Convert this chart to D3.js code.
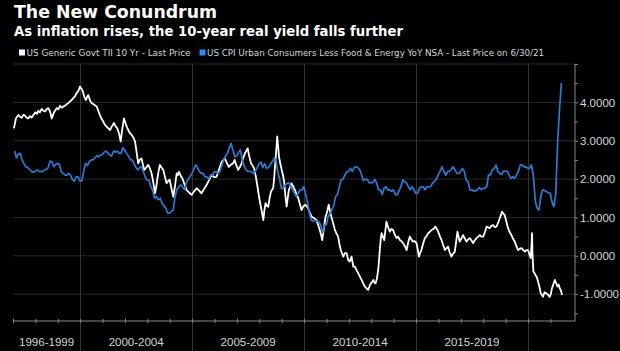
<!DOCTYPE html>
<html>
<head>
<meta charset="utf-8">
<script src="https://cdn.jsdelivr.net/npm/d3@7"></script>
<style>
	body { margin: 0; background: #000; }
	svg { display: block; }
</style>
</head>
<body>
<div id="chart"></div>
<script>
// ---- chart text ----
const titleText = 'The New Conundrum';
const subtitleText = 'As inflation rises, the 10-year real yield falls further';
const legendLabels = [
	'US Generic Govt TII 10 Yr - Last Price',
	'US CPI Urban Consumers Less Food & Energy YoY NSA - Last Price on 6/30/21'
];

// x axis: period bands (labels sit centred in each band)
const periodBreaks = [1997, 2000, 2005, 2010, 2015, 2020, 2022.1];
const periodLabels = ['1996-1999', '2000-2004', '2005-2009', '2010-2014', '2015-2019', ''];
const yGridValues = [-1, 0, 1, 2, 3, 4, 5];

// 10y TIPS real yield, [decimal year, %]
const tiiYield = [
	[1997.04, 3.32], [1997.13, 3.58], [1997.24, 3.67], [1997.32, 3.62], [1997.39, 3.6], [1997.47, 3.68],
	[1997.54, 3.65], [1997.61, 3.6], [1997.68, 3.58], [1997.76, 3.64], [1997.83, 3.6], [1997.92, 3.68],
	[1998.0, 3.74], [1998.07, 3.7], [1998.13, 3.78], [1998.2, 3.74], [1998.28, 3.83], [1998.36, 3.78],
	[1998.43, 3.76], [1998.5, 3.82], [1998.58, 3.85], [1998.66, 3.75], [1998.73, 3.58], [1998.78, 3.66],
	[1998.83, 3.74], [1998.9, 3.8], [1998.95, 3.85], [1999.03, 3.82], [1999.1, 3.91], [1999.18, 3.86],
	[1999.25, 3.89], [1999.33, 3.92], [1999.4, 3.95], [1999.47, 3.98], [1999.54, 4.02], [1999.62, 4.06],
	[1999.69, 4.11], [1999.77, 4.16], [1999.84, 4.24], [1999.92, 4.3], [1999.99, 4.41], [2000.05, 4.36],
	[2000.11, 4.3], [2000.18, 4.15], [2000.26, 4.06], [2000.31, 4.14], [2000.36, 4.19], [2000.44, 4.05],
	[2000.51, 3.98], [2000.6, 3.95], [2000.67, 3.92], [2000.74, 3.89], [2000.81, 3.78], [2000.88, 3.67],
	[2000.95, 3.58], [2001.03, 3.5], [2001.1, 3.42], [2001.18, 3.37], [2001.25, 3.33], [2001.33, 3.28],
	[2001.42, 3.38], [2001.51, 3.46], [2001.58, 3.38], [2001.66, 3.32], [2001.74, 3.18], [2001.81, 2.98],
	[2001.88, 3.3], [2001.96, 3.58], [2002.02, 3.47], [2002.09, 3.35], [2002.15, 3.28], [2002.22, 3.2],
	[2002.3, 3.15], [2002.38, 3.08], [2002.45, 2.98], [2002.52, 2.7], [2002.59, 2.41], [2002.66, 2.5],
	[2002.74, 2.54], [2002.8, 2.38], [2002.86, 2.24], [2002.95, 2.3], [2003.04, 2.37], [2003.1, 2.3],
	[2003.19, 2.15], [2003.27, 1.9], [2003.34, 1.63], [2003.4, 1.8], [2003.44, 1.98], [2003.5, 2.2],
	[2003.56, 2.37], [2003.63, 2.3], [2003.71, 2.24], [2003.79, 2.05], [2003.86, 1.89], [2003.93, 1.95],
	[2004.0, 1.98], [2004.08, 1.75], [2004.16, 1.54], [2004.23, 1.8], [2004.31, 2.15], [2004.36, 2.1],
	[2004.41, 2.19], [2004.48, 2.1], [2004.56, 2.02], [2004.65, 1.88], [2004.75, 1.72], [2004.86, 1.65],
	[2004.98, 1.59], [2005.09, 1.68], [2005.2, 1.76], [2005.31, 1.7], [2005.42, 1.63], [2005.54, 1.75],
	[2005.65, 1.85], [2005.76, 1.98], [2005.87, 2.11], [2005.98, 2.05], [2006.09, 2.06], [2006.2, 2.25],
	[2006.32, 2.45], [2006.4, 2.5], [2006.46, 2.54], [2006.55, 2.42], [2006.64, 2.32], [2006.74, 2.38],
	[2006.83, 2.41], [2006.9, 2.5], [2006.98, 2.35], [2007.06, 2.24], [2007.14, 2.32], [2007.21, 2.41],
	[2007.28, 2.55], [2007.36, 2.67], [2007.43, 2.75], [2007.48, 2.8], [2007.55, 2.6], [2007.63, 2.41],
	[2007.7, 2.35], [2007.77, 2.28], [2007.85, 2.05], [2007.92, 1.8], [2008.0, 1.5], [2008.07, 1.28],
	[2008.13, 1.1], [2008.18, 0.93], [2008.23, 1.2], [2008.28, 1.37], [2008.34, 1.3], [2008.4, 1.28],
	[2008.46, 1.5], [2008.52, 1.67], [2008.57, 1.72], [2008.62, 1.76], [2008.66, 2.0], [2008.7, 2.32],
	[2008.75, 2.7], [2008.8, 3.11], [2008.84, 2.85], [2008.88, 2.58], [2008.94, 2.4], [2009.0, 2.24],
	[2009.06, 2.1], [2009.11, 1.93], [2009.16, 1.6], [2009.22, 1.28], [2009.27, 1.5], [2009.32, 1.72],
	[2009.38, 1.8], [2009.44, 1.89], [2009.52, 1.8], [2009.59, 1.72], [2009.66, 1.6], [2009.74, 1.5],
	[2009.81, 1.35], [2009.89, 1.19], [2009.96, 1.28], [2010.04, 1.33], [2010.11, 1.3], [2010.18, 1.24],
	[2010.26, 1.12], [2010.34, 1.02], [2010.45, 0.98], [2010.56, 0.93], [2010.63, 0.8], [2010.7, 0.67],
	[2010.76, 0.55], [2010.81, 0.41], [2010.88, 0.7], [2010.96, 1.02], [2011.03, 1.15], [2011.1, 1.33],
	[2011.18, 1.1], [2011.26, 0.93], [2011.32, 0.8], [2011.38, 0.67], [2011.45, 0.58], [2011.52, 0.5],
	[2011.58, 0.3], [2011.64, 0.15], [2011.7, 0.05], [2011.75, -0.02], [2011.82, 0.07], [2011.9, 0.07],
	[2011.97, -0.11], [2012.04, -0.15], [2012.12, -0.02], [2012.2, -0.28], [2012.27, -0.28], [2012.35, -0.38],
	[2012.42, -0.46], [2012.5, -0.55], [2012.57, -0.63], [2012.64, -0.72], [2012.71, -0.8], [2012.79, -0.85],
	[2012.86, -0.89], [2012.92, -0.8], [2012.98, -0.72], [2013.04, -0.68], [2013.09, -0.63], [2013.14, -0.7],
	[2013.19, -0.72], [2013.25, -0.6], [2013.31, -0.37], [2013.35, -0.1], [2013.38, 0.15], [2013.42, 0.4],
	[2013.46, 0.59], [2013.52, 0.5], [2013.58, 0.41], [2013.63, 0.65], [2013.68, 0.89], [2013.75, 0.75],
	[2013.83, 0.63], [2013.9, 0.7], [2013.98, 0.67], [2014.05, 0.55], [2014.13, 0.46], [2014.2, 0.5],
	[2014.28, 0.41], [2014.35, 0.38], [2014.42, 0.33], [2014.5, 0.25], [2014.58, 0.15], [2014.65, 0.35],
	[2014.72, 0.5], [2014.8, 0.42], [2014.87, 0.37], [2014.95, 0.38], [2015.02, 0.33], [2015.08, 0.15],
	[2015.13, -0.02], [2015.19, 0.08], [2015.24, 0.15], [2015.31, 0.3], [2015.39, 0.46], [2015.46, 0.5],
	[2015.54, 0.59], [2015.61, 0.62], [2015.69, 0.67], [2015.78, 0.7], [2015.87, 0.76], [2015.93, 0.7],
	[2015.99, 0.63], [2016.07, 0.5], [2016.14, 0.41], [2016.21, 0.28], [2016.29, 0.15], [2016.36, 0.2],
	[2016.43, 0.24], [2016.5, 0.1], [2016.58, -0.02], [2016.65, 0.05], [2016.73, 0.1], [2016.8, 0.4],
	[2016.85, 0.63], [2016.9, 0.5], [2016.95, 0.37], [2017.03, 0.45], [2017.1, 0.54], [2017.18, 0.45],
	[2017.25, 0.37], [2017.32, 0.42], [2017.4, 0.46], [2017.48, 0.4], [2017.55, 0.33], [2017.62, 0.4],
	[2017.7, 0.46], [2017.78, 0.5], [2017.85, 0.54], [2017.92, 0.5], [2018.0, 0.5], [2018.08, 0.62],
	[2018.15, 0.76], [2018.22, 0.74], [2018.29, 0.72], [2018.36, 0.78], [2018.44, 0.8], [2018.52, 0.75],
	[2018.59, 0.76], [2018.66, 0.85], [2018.74, 0.98], [2018.8, 1.08], [2018.84, 1.15], [2018.9, 1.1],
	[2018.96, 1.06], [2019.03, 0.9], [2019.11, 0.72], [2019.18, 0.62], [2019.26, 0.54], [2019.33, 0.45],
	[2019.41, 0.37], [2019.48, 0.25], [2019.56, 0.15], [2019.63, 0.18], [2019.71, 0.2], [2019.78, 0.15],
	[2019.86, 0.11], [2019.93, 0.15], [2020.0, 0.15], [2020.06, 0.05], [2020.12, -0.06], [2020.16, 0.3],
	[2020.18, 0.59], [2020.2, 0.1], [2020.24, -0.41], [2020.29, -0.45], [2020.33, -0.5], [2020.39, -0.55],
	[2020.45, -0.67], [2020.51, -0.8], [2020.57, -0.98], [2020.62, -1.02], [2020.67, -1.07], [2020.74, -0.95],
	[2020.82, -0.98], [2020.9, -1.02], [2020.97, -1.07], [2021.02, -1.0], [2021.07, -0.85], [2021.13, -0.75],
	[2021.2, -0.63], [2021.26, -0.72], [2021.32, -0.8], [2021.37, -0.75], [2021.42, -0.85], [2021.47, -0.9],
	[2021.52, -1.02]
];

// core CPI YoY %, monthly from Jan 1997 to Jun 2021 (plotted at month end)
const coreCpiFirstYear = 1997;
const coreCpi = [
	2.73, 2.55, 2.65, 2.67, 2.5, 2.4, 2.32, 2.3, 2.25, 2.2, 2.18, 2.2,       // 1997
	2.24, 2.2, 2.2, 2.19, 2.25, 2.25, 2.3, 2.47, 2.45, 2.32, 2.38, 2.41,     // 1998
	2.38, 2.19, 2.15, 2.11, 2.1, 2.15, 2.1, 1.98, 1.95, 2.06, 2.06, 1.95,    // 1999
	1.95, 2.2, 2.41, 2.35, 2.45, 2.5, 2.5, 2.55, 2.61, 2.58, 2.62, 2.64,     // 2000
	2.7, 2.73, 2.68, 2.63, 2.6, 2.73, 2.7, 2.73, 2.67, 2.67, 2.82, 2.75,     // 2001
	2.67, 2.6, 2.5, 2.5, 2.4, 2.3, 2.24, 2.3, 2.32, 2.2, 2.05, 1.97,         // 2002
	1.97, 1.8, 1.7, 1.5, 1.55, 1.46, 1.5, 1.37, 1.3, 1.25, 1.11, 1.11,       // 2003
	1.15, 1.19, 1.55, 1.72, 1.8, 1.85, 1.8, 1.72, 1.9, 2.0, 2.06, 2.15,      // 2004
	2.25, 2.37, 2.3, 2.2, 2.15, 2.15, 2.06, 2.06, 2.0, 2.1, 2.1, 2.19,       // 2005
	2.19, 2.15, 2.2, 2.35, 2.5, 2.6, 2.67, 2.8, 2.93, 2.75, 2.58, 2.6,       // 2006
	2.7, 2.76, 2.5, 2.35, 2.24, 2.2, 2.2, 2.19, 2.15, 2.2, 2.3, 2.4,         // 2007
	2.45, 2.3, 2.4, 2.28, 2.3, 2.37, 2.45, 2.54, 2.5, 2.2, 2.0, 1.76,        // 2008
	1.76, 1.85, 1.89, 1.9, 1.8, 1.72, 1.63, 1.55, 1.63, 1.72, 1.72, 1.8,     // 2009
	1.6, 1.37, 1.1, 0.93, 0.9, 0.93, 0.9, 0.89, 0.8, 0.6, 0.8, 0.8,          // 2010
	1.02, 1.1, 1.2, 1.3, 1.54, 1.6, 1.8, 1.98, 2.0, 2.1, 2.19, 2.2,          // 2011
	2.28, 2.2, 2.3, 2.32, 2.3, 2.24, 2.1, 1.96, 2.0, 1.99, 1.9, 1.91,        // 2012
	1.91, 1.99, 1.9, 1.72, 1.72, 1.6, 1.76, 1.8, 1.72, 1.72, 1.68, 1.72,     // 2013
	1.6, 1.59, 1.7, 1.8, 1.98, 1.93, 1.9, 1.8, 1.72, 1.8, 1.72, 1.63,        // 2014
	1.63, 1.76, 1.8, 1.8, 1.72, 1.8, 1.8, 1.8, 1.9, 1.93, 2.0, 2.11,         // 2015
	2.2, 2.32, 2.2, 2.1, 2.19, 2.2, 2.25, 2.32, 2.24, 2.15, 2.15, 2.2,       // 2016
	2.28, 2.2, 1.98, 1.93, 1.72, 1.72, 1.69, 1.69, 1.72, 1.78, 1.72, 1.76,   // 2017
	1.76, 1.8, 2.11, 2.11, 2.24, 2.27, 2.37, 2.2, 2.15, 2.12, 2.21, 2.2,     // 2018
	2.21, 2.11, 2.02, 2.06, 2.02, 2.11, 2.2, 2.37, 2.37, 2.32, 2.32, 2.28,   // 2019
	2.28, 2.37, 2.1, 1.45, 1.24, 1.19, 1.55, 1.72, 1.7, 1.67, 1.65, 1.63,    // 2020
	1.4, 1.28, 1.6, 2.95, 3.8, 4.5                                           // 2021
];

// ---- layout ----
const width = 620, height = 351;
const plot = { left: 13, right: 575, top: 64, bottom: 321 };
const colors = { bg: '#000', white: '#ffffff', blue: '#2c7bd3', grid: '#2b2b2b', axis: '#8a8a8a', text: '#d6d6d6' };

const svg = d3.select('#chart').append('svg')
	.attr('width', width)
	.attr('height', height)
	.style('background', colors.bg);

// scales
const xScale = d3.scaleLinear().domain([1997, 2022.1]).range([plot.left, plot.right]);
const yScale = d3.scaleLinear().domain([-1.7, 5]).range([plot.bottom, plot.top]);

// horizontal grid
svg.append('g').selectAll('line')
	.data(yGridValues)
	.join('line')
	.attr('x1', plot.left).attr('x2', plot.right)
	.attr('y1', d => yScale(d)).attr('y2', d => yScale(d))
	.attr('stroke', colors.grid)
	.attr('stroke-width', 1);

// period separators, run down through the label row
svg.append('g').selectAll('line')
	.data(periodBreaks.slice(1, -1))
	.join('line')
	.attr('x1', d => Math.round(xScale(d)) + 0.5).attr('x2', d => Math.round(xScale(d)) + 0.5)
	.attr('y1', plot.top).attr('y2', height)
	.attr('stroke', '#333')
	.attr('stroke-width', 1);

// bottom axis, a tick every year
const xAxis = d3.axisBottom(xScale)
	.tickValues(d3.range(1997, 2022))
	.tickSize(2)
	.tickFormat('');
const xAxisG = svg.append('g')
	.attr('transform', `translate(0, ${plot.bottom})`)
	.call(xAxis);
xAxisG.select('.domain').attr('stroke', colors.axis).attr('d', `M${plot.left},0H${plot.right}`);
xAxisG.selectAll('.tick line').attr('stroke', colors.axis).attr('y1', -2).attr('y2', 2);

// period labels
svg.append('g').selectAll('text')
	.data(periodLabels.map((label, i) => ({ label, a: periodBreaks[i], b: periodBreaks[i + 1] })))
	.join('text')
	.attr('x', d => (xScale(d.a) + xScale(d.b)) / 2)
	.attr('y', 346)
	.attr('text-anchor', 'middle')
	.attr('fill', colors.text)
	.style('font-family', '"Liberation Sans", Arial, sans-serif')
	.style('font-size', '11.5px')
	.text(d => d.label);

// right axis
const yAxis = d3.axisRight(yScale)
	.tickValues(d3.range(-1.5, 5.01, 0.5))
	.tickSize(3)
	.tickPadding(2)
	.tickFormat(d => Number.isInteger(d) && d < 5 ? d.toFixed(4) : '');
const yAxisG = svg.append('g')
	.attr('transform', `translate(${plot.right}, 0)`)
	.call(yAxis);
yAxisG.select('.domain').attr('stroke', colors.axis).attr('d', `M0,${plot.top}V${plot.bottom}`);
yAxisG.selectAll('.tick line').attr('stroke', colors.axis);
yAxisG.selectAll('.tick text')
	.attr('fill', colors.text)
	.style('font-family', '"Liberation Sans", Arial, sans-serif')
	.style('font-size', '11.5px');

// lines
const line = d3.line()
	.x(d => xScale(d[0]))
	.y(d => yScale(d[1]));

const cpiPoints = coreCpi.map((v, i) => [coreCpiFirstYear + (i + 1) / 12 - 0.01, v]);

svg.append('path')
	.datum(tiiYield)
	.attr('fill', 'none')
	.attr('stroke', colors.white)
	.attr('stroke-width', 1.8)
	.attr('stroke-linejoin', 'round')
	.attr('d', line);

svg.append('path')
	.datum(cpiPoints)
	.attr('fill', 'none')
	.attr('stroke', colors.blue)
	.attr('stroke-width', 1.7)
	.attr('stroke-linejoin', 'round')
	.attr('d', line);

// title + subtitle
svg.append('text')
	.attr('x', 14).attr('y', 18)
	.attr('fill', '#fff')
	.style('font-family', '"DejaVu Sans", sans-serif')
	.style('font-weight', 'bold')
	.style('font-size', '17.3px')
	.attr('textLength', 203)
	.attr('lengthAdjust', 'spacingAndGlyphs')
	.text(titleText);

svg.append('text')
	.attr('x', 14).attr('y', 35.5)
	.attr('fill', '#fff')
	.style('font-family', '"DejaVu Sans", sans-serif')
	.style('font-weight', 'bold')
	.style('font-size', '13.6px')
	.attr('textLength', 389)
	.attr('lengthAdjust', 'spacingAndGlyphs')
	.text(subtitleText);

// legend
const legendItems = [
	{ label: legendLabels[0], color: colors.white, x: 19, w: 164 },
	{ label: legendLabels[1], color: '#2f8be8', x: 199.5, w: 337 }
];
const legend = svg.append('g');
legend.selectAll('rect')
	.data(legendItems)
	.join('rect')
	.attr('x', d => d.x).attr('y', 49.5)
	.attr('width', 6).attr('height', 6)
	.attr('fill', d => d.color);
legend.selectAll('text')
	.data(legendItems)
	.join('text')
	.attr('x', d => d.x + 7.5).attr('y', 56)
	.attr('fill', colors.text)
	.style('font-family', '"DejaVu Sans Condensed", "Liberation Sans Narrow", sans-serif')
	.style('font-size', '9.5px')
	.attr('textLength', d => d.w)
	.attr('lengthAdjust', 'spacingAndGlyphs')
	.text(d => d.label);
</script>
</body>
</html>
